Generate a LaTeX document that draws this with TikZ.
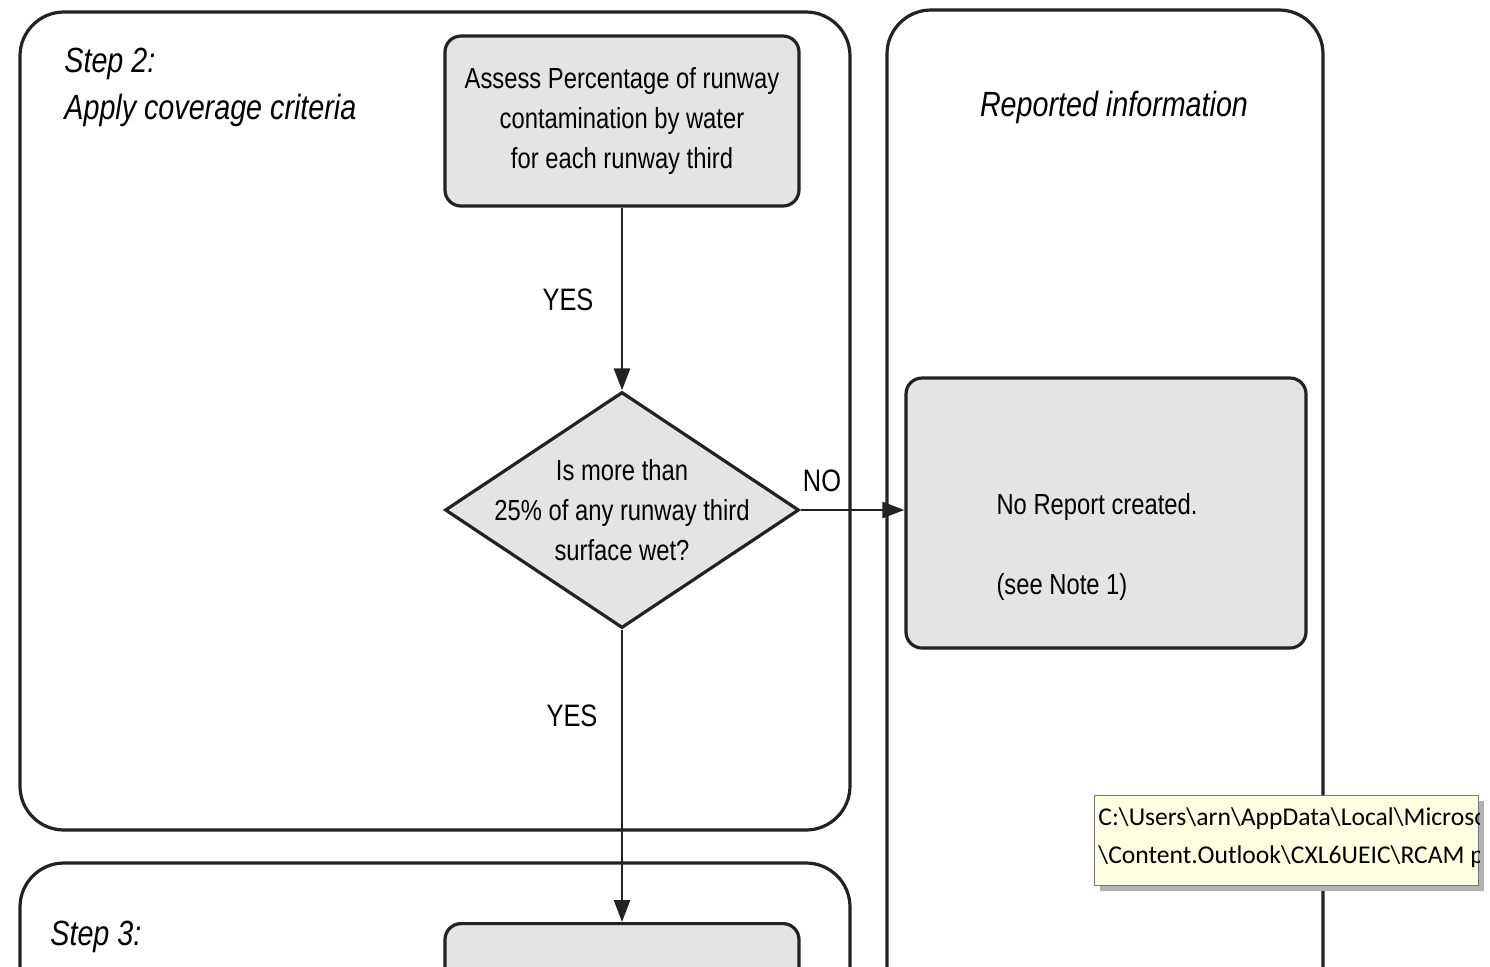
\documentclass[tikz,border=0pt]{standalone}
\usepackage{fontspec}
\setmainfont{Liberation Sans}[FakeStretch=0.82]
\newfontfamily\tipfont{Carlito}
\usetikzlibrary{shapes.geometric,arrows.meta}
\definecolor{boxgray}{HTML}{E4E4E4}
\definecolor{tipyellow}{HTML}{FFFFE1}
\definecolor{linegray}{HTML}{222222}
\definecolor{tipedge}{HTML}{767676}

\begin{document}
\begin{tikzpicture}[x=0.5pt,y=-0.5pt]
    \tikzstyle{every node}+=[inner sep=0pt, font=\fontsize{14.5}{20}\selectfont]
    \tikzstyle{panel}=[draw=linegray, line width=1.6pt, rounded corners=22pt]
    \tikzstyle{procbox}=[draw=linegray, fill=boxgray, line width=1.6pt, rounded corners=8pt, minimum width=177pt, align=center]
    \tikzstyle{decision}=[draw=linegray, fill=boxgray, line width=1.6pt, diamond, minimum width=177pt, minimum height=118pt]
    \tikzstyle{flow}=[draw=linegray, line width=1.3pt, -{Triangle[length=11pt,width=8pt]}]
    \tikzstyle{heading}=[font=\fontsize{17.5}{23.5}\selectfont\itshape, align=left]
    \tikzstyle{answer}=[font=\fontsize{15.5}{18}\selectfont]
    \tikzstyle{tipbox}=[draw=tipedge, fill=tipyellow, line width=0.6pt]
    \tikzstyle{tiptext}=[font=\tipfont\fontsize{12.8}{19}\selectfont, align=left]
    \useasboundingbox (0,0) rectangle (1490,966);
    \fill [white] (0,0) rectangle (1490,966);
    \clip (0,0) rectangle (1490,966);
    % panels
    \draw [panel] (20,12) rectangle (850,830);
    \draw [panel] (887,10) rectangle (1323,1100);
    \draw [panel] (20,863) rectangle (850,1100);
    \node [heading, anchor=west] (steptwo) at (64,87) {Step 2:\\Apply coverage criteria};
    \node [heading] (reported) at (1114,107) {Reported information};
    \node [heading, anchor=west] (stepthree) at (50,937) {Step 3:};
    % boxes
    \node [procbox, minimum height=85pt] (assess) at (622,121) {Assess Percentage of runway\\contamination by water\\for each runway third};
    \node [decision] (wetq) at (622,510) {};
    \node [align=center] (wetqtext) at (wetq) {Is more than\\25\% of any runway third\\surface wet?};
    \node [procbox, minimum width=200pt, minimum height=135pt] (noreport) at (1106,513) {};
    \node [align=left] (noreporttext) at (1097,547) {No Report created.\\[20pt](see Note 1)};
    \node [procbox, minimum height=90pt, anchor=north] (assign) at (622,922) {};
    % connectors
    \draw [flow] (assess) -- (wetq);
    \node [answer] (yesone) at (568,300) {YES};
    \draw [flow] (wetq.east) -- (wetq.east -| noreport.west);
    \node [answer] (noone) at (822,481) {NO};
    \draw [flow] (wetq) -- (assign);
    \node [answer] (yestwo) at (572,716) {YES};
    % tooltip
    \fill [black!30] (1100,801) rectangle (1484,891);
    \node [tipbox, minimum width=192pt, minimum height=45pt, anchor=north west] (tip) at (1094,795) {};
    \begin{scope}
        \clip (tip.south west) rectangle (tip.north east);
        \node [tiptext, anchor=north west] (tiptxt) at ([xshift=2pt,yshift=-6pt]tip.north west) {C:\textbackslash Users\textbackslash arn\textbackslash AppData\textbackslash Local\textbackslash Microso\\\textbackslash Content.Outlook\textbackslash CXL6UEIC\textbackslash RCAM p};
    \end{scope}
\end{tikzpicture}
\end{document}
